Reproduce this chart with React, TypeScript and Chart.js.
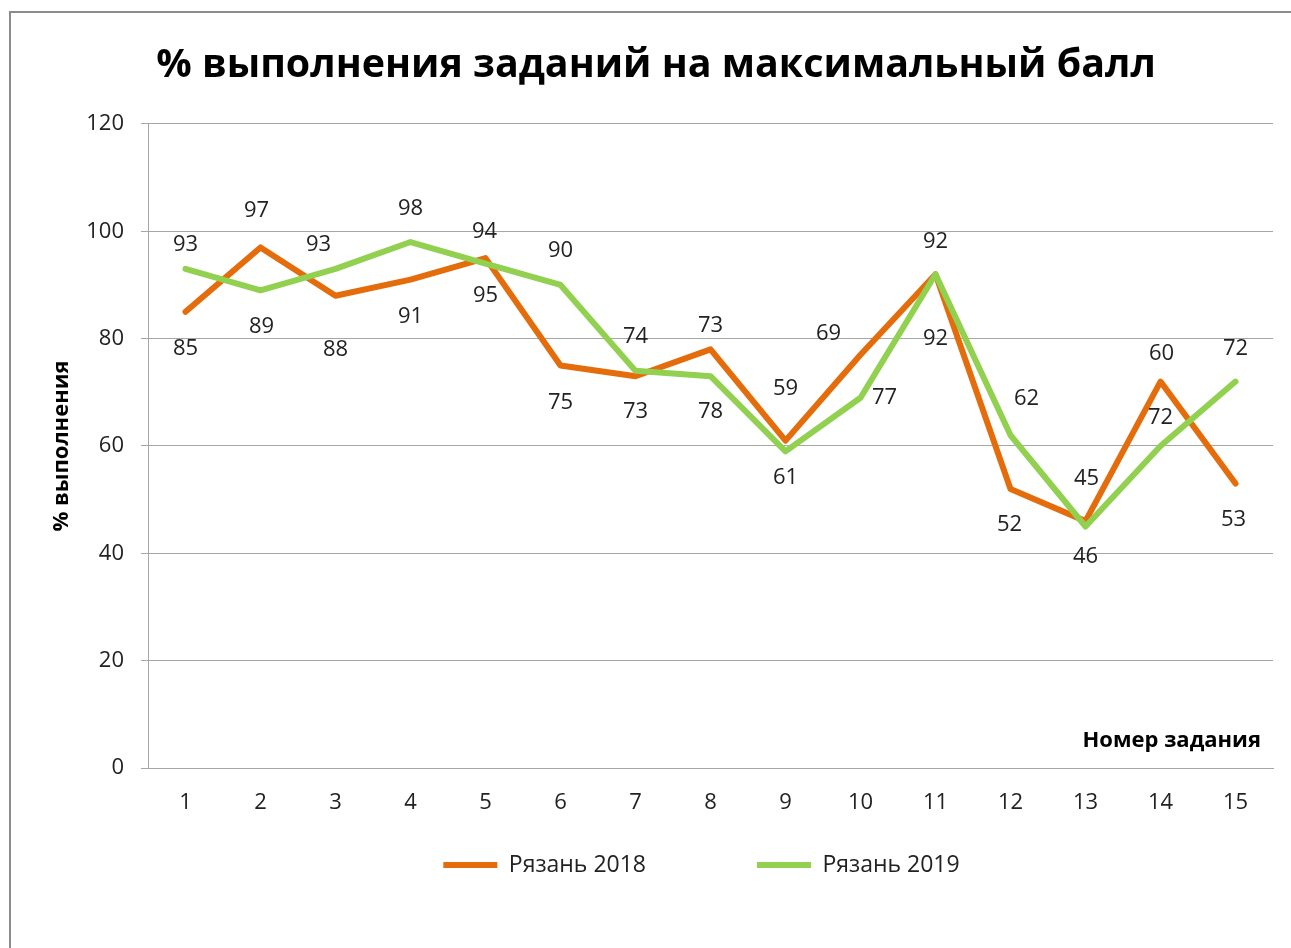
import { useEffect, useRef } from 'react';
import { Chart, registerables } from 'chart.js';

Chart.register(...registerables);

// ---- data ----
const categories = ['1', '2', '3', '4', '5', '6', '7', '8', '9', '10', '11', '12', '13', '14', '15'];
const ryazan2018 = [85, 97, 88, 91, 95, 75, 73, 78, 61, 77, 92, 52, 46, 72, 53];
const ryazan2019 = [93, 89, 93, 98, 94, 90, 74, 73, 59, 69, 92, 62, 45, 60, 72];
const seriesNames = ['Рязань 2018', 'Рязань 2019'];
const yMin = 0;
const yMax = 120;
const yStep = 20;
const chartTitle = '% выполнения заданий на максимальный балл';
const yAxisTitle = '% выполнения';
const xAxisTitle = 'Номер задания';

// ---- label placement (style) ----
const labelDx2018 = [0, -4, 0, 0, 0, 0, 0, 0, 0, 24, 0, -1, 0, 0, -2];
const labelDy2018 = [37, -37, 54, 37, 38, 37, 36, 62, 37, 43, 64, 36, 36, 36, 36];
const labelDx2019 = [0, 1, -17, 0, -1, 0, 0, 0, 0, -32, 0, 16, 1, 1, 0];
const labelDy2019 = [-24, 36, -24, -33, -32, -34, -34, -50, -63, -64, -33, -37, -48, -92, -33];
const labelOffsets = [
  { dx: labelDx2018, dy: labelDy2018 },
  { dx: labelDx2019, dy: labelDy2019 },
];

const FONT = "'Open Sans', 'DejaVu Sans', sans-serif";
const TEXT = '#222222';
const GRID = '#a6a6a6';
const ORANGE = '#e46c0a';
const GREEN = '#92d050';
const LEGEND_PAD = 111;
const LEGEND_FONT = 23;
const LABEL_SIZE = 22;

const framePlugin = {
  id: 'frame',
  beforeDraw(chart: any) {
    const { ctx, width, height } = chart;
    ctx.save();
    ctx.fillStyle = '#ffffff';
    ctx.fillRect(0, 0, width, height);
    ctx.fillStyle = '#8c8c8c';
    ctx.fillRect(9, 11, 2, height);
    ctx.fillRect(9, 11, width, 2);
    ctx.restore();
  },
};

const placePlugin = {
  id: 'place',
  afterLayout(chart: any) {
    const ca = chart.chartArea;
    const lg = chart.legend;
    if (lg) {
      const targetCx = (ca.left + ca.right) / 2 - 9;
      const dx = targetCx - (lg.left + lg.right) / 2;
      lg.left += dx;
      lg.right += dx;
      const targetCy = ca.bottom + 97;
      const dy = targetCy - (lg.top + LEGEND_PAD + LEGEND_FONT / 2);
      lg.top += dy;
      lg.bottom = chart.height;
      lg.height = lg.bottom - lg.top;
    }
    const tb = chart.titleBlock;
    if (tb) {
      const targetCx = chart.width / 2 + 10.5;
      const dx = targetCx - (tb.left + tb.right) / 2;
      tb.left += dx;
      tb.right += dx;
    }
  },
};

const valueLabelPlugin = {
  id: 'valueLabels',
  afterDatasetsDraw(chart: any) {
    const ctx = chart.ctx;
    ctx.save();
    ctx.font = `${LABEL_SIZE}px ${FONT}`;
    ctx.fillStyle = TEXT;
    ctx.textAlign = 'center';
    ctx.textBaseline = 'middle';
    chart.data.datasets.forEach((ds: any, di: number) => {
      const meta = chart.getDatasetMeta(di);
      const off = labelOffsets[di];
      meta.data.forEach((pt: any, i: number) => {
        ctx.fillText(String(ds.data[i]), pt.x + off.dx[i], pt.y + off.dy[i]);
      });
    });
    ctx.restore();
  },
};

const xTitlePlugin = {
  id: 'xTitleInside',
  afterDraw(chart: any) {
    const ctx = chart.ctx;
    const ca = chart.chartArea;
    ctx.save();
    ctx.font = `bold 22px ${FONT}`;
    ctx.fillStyle = '#000000';
    ctx.textAlign = 'right';
    ctx.textBaseline = 'middle';
    ctx.fillText(xAxisTitle, ca.right - 12, ca.bottom - 27);
    ctx.restore();
  },
};

export default function App() {
  const ref = useRef<HTMLCanvasElement>(null);

  useEffect(() => {
    if (!ref.current) return;
    Chart.defaults.font.family = FONT;
    Chart.defaults.color = TEXT;
    const chart = new Chart(ref.current, {
      type: 'line',
      data: {
        labels: categories,
        datasets: [
          {
            label: seriesNames[0],
            data: ryazan2018,
            borderColor: ORANGE,
            backgroundColor: ORANGE,
            borderWidth: 6,
            borderCapStyle: 'round',
            borderJoinStyle: 'round',
            pointRadius: 0,
            pointHoverRadius: 0,
            tension: 0,
            order: 1,
          },
          {
            label: seriesNames[1],
            data: ryazan2019,
            borderColor: GREEN,
            backgroundColor: GREEN,
            borderWidth: 6,
            borderCapStyle: 'round',
            borderJoinStyle: 'round',
            pointRadius: 0,
            pointHoverRadius: 0,
            tension: 0,
            order: 0,
          },
        ],
      },
      options: {
        responsive: false,
        animation: false,
        devicePixelRatio: 1,
        layout: { padding: { left: 0, right: 18, top: 0, bottom: 0 } },
        plugins: {
          tooltip: { enabled: false },
          title: {
            display: true,
            text: chartTitle,
            color: '#000000',
            font: { family: FONT, size: 39.4, weight: 'bold', lineHeight: 1.2 },
            padding: { top: 42, bottom: 34.7 },
          },
          legend: {
            display: true,
            position: 'bottom',
            maxHeight: 100,
            labels: {
              usePointStyle: true,
              pointStyle: 'line',
              pointStyleWidth: 54,
              padding: LEGEND_PAD,
              color: TEXT,
              font: { family: FONT, size: LEGEND_FONT },
              sort: (a: any, b: any) => a.datasetIndex - b.datasetIndex,
            },
          },
        },
        scales: {
          x: {
            type: 'category',
            offset: true,
            grid: { display: false, drawTicks: false },
            border: { display: true, color: GRID, width: 1 },
            ticks: { color: TEXT, font: { size: LABEL_SIZE }, padding: 22, maxRotation: 0 },
            afterFit: (scale: any) => {
              scale.height = 80;
            },
          },
          y: {
            min: yMin,
            max: yMax,
            ticks: { stepSize: yStep, color: TEXT, font: { size: LABEL_SIZE }, padding: 17 },
            grid: { color: GRID, lineWidth: 1, drawTicks: true, tickLength: 7 },
            border: { display: true, color: GRID, width: 1 },
            title: {
              display: true,
              text: yAxisTitle,
              color: '#000000',
              font: { family: FONT, size: 22, weight: 'bold', lineHeight: 1.2 },
              padding: { top: 49, bottom: 0 },
            },
            afterFit: (scale: any) => {
              scale.width = 148;
            },
          },
        },
      },
      plugins: [framePlugin, placePlugin, valueLabelPlugin, xTitlePlugin],
    } as any);
    return () => chart.destroy();
  }, []);

  return (
    <canvas
      ref={ref}
      width={1291}
      height={948}
      style={{ position: 'absolute', left: 0, top: 0, width: 1291, height: 948 }}
    />
  );
}
